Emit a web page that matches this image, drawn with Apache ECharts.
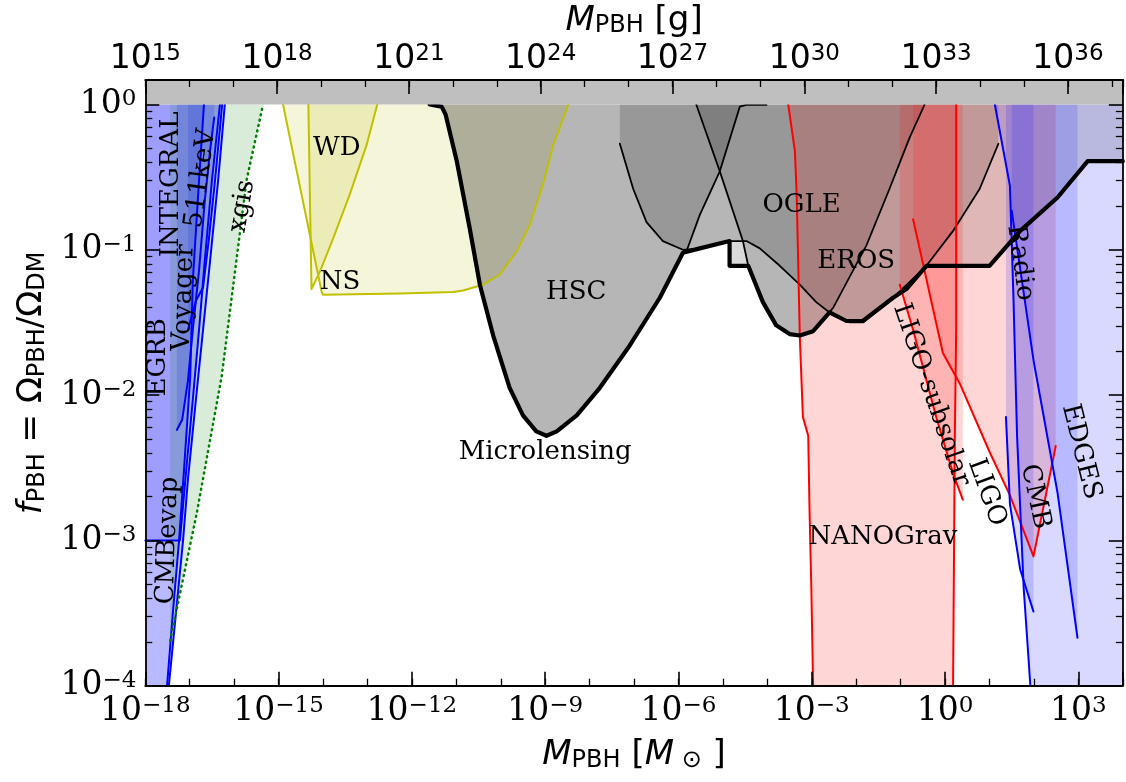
<!DOCTYPE html>
<html><head><meta charset="utf-8">
<script src="https://cdn.jsdelivr.net/npm/echarts@6/dist/echarts.min.js"></script>
<style>html,body{margin:0;padding:0;background:#fff}#c{width:1126px;height:782px}</style>
</head><body><div id="c"></div>
<script>
// Axis ranges: x in log10(M/Msun), top axis in log10(M/g), y in log10(f_PBH)
const X_MIN = -18, X_MAX = 4;
const G_MIN = 15, G_MAX = 37.25;
const Y_MIN = -4, Y_MAX = 0.1686;   // f_PBH from 1e-4 to ~1.47
const X_TICK_STEP = 3;

// Curves: [log10(M/Msun), log10(f_PBH)]
const cmbEvap  = [[-17.51,-4.0],[-17.38,-3.5],[-17.24,-3.0],[-17.13,-2.52],[-16.99,-1.88],[-16.93,-1.21],[-16.79,-0.52],[-16.68,0]];
const egrb     = [[-18,-3.0],[-17.22,-3.0],[-17.08,-2.52],[-16.93,-2.03],[-16.79,-1.55],[-16.66,-1.07],[-16.50,-0.52],[-16.32,0]];
const voyager  = [[-17.47,-4.0],[-17.31,-3.5],[-17.15,-3.0],[-17.04,-2.58],[-16.86,-2.03],[-16.70,-1.55],[-16.54,-1.07],[-16.36,-0.52],[-16.21,0]];
const kev511   = [[-17.29,-2.24],[-17.17,-2.17],[-17.04,-1.90],[-16.93,-1.55],[-16.79,-1.14],[-16.66,-0.66],[-16.54,-0.31],[-16.45,-0.09]];
const integral = [[-17.04,-1.55],[-16.86,-1.35],[-16.70,-1.26],[-16.57,-0.93],[-16.43,-0.52],[-16.27,0]];
const xgis     = [[-17.44,-3.69],[-16.84,-2.81],[-16.28,-1.87],[-15.72,-0.52],[-15.35,0]];
const wd       = [[-14.33,0],[-14.26,-1.27],[-14.07,-1.15],[-13.77,-0.92],[-13.40,-0.62],[-13.02,-0.28],[-12.78,0]];
const ns       = [[-14.90,0],[-14.22,-1.01],[-14.03,-1.29],[-14.00,-1.31],[-12.27,-1.30],[-11.07,-1.29],[-10.85,-1.28],[-10.40,-1.24],[-10.02,-1.17],[-9.64,-1.01],[-9.35,-0.83],[-9.05,-0.55],[-8.82,-0.28],[-8.48,0]];
const hsc      = [[-11.60,0],[-11.33,-0.015],[-11.24,-0.07],[-10.99,-0.39],[-10.70,-0.85],[-10.47,-1.24],[-10.17,-1.59],[-9.80,-1.95],[-9.50,-2.14],[-9.20,-2.25],[-8.97,-2.28],[-8.74,-2.25],[-8.29,-2.14],[-7.77,-1.95],[-7.10,-1.66],[-6.42,-1.33],[-5.90,-1.02],[-5.82,-1.01],[-5.52,-0.76],[-5.07,-0.46],[-4.62,-0.015],[-4.47,-0.003],[-4.02,-0.003]];
const eros     = [[-7.32,-0.27],[-7.02,-0.58],[-6.72,-0.81],[-6.35,-0.94],[-5.90,-1.00],[-5.52,-0.99],[-4.92,-0.94],[-4.47,-0.94],[-4.17,-0.99],[-3.72,-1.11],[-3.27,-1.24],[-2.90,-1.36],[-2.52,-1.45],[-2.15,-1.50],[-1.85,-1.50],[-1.17,-1.33],[-0.42,-1.11],[0.18,-0.87],[0.78,-0.58],[1.20,-0.27]];
const ogle     = [[-5.60,0],[-5.07,-0.46],[-4.55,-0.94],[-4.43,-1.11],[-4.10,-1.36],[-3.80,-1.52],[-3.50,-1.58],[-3.27,-1.59],[-2.97,-1.56],[-2.52,-1.40],[-1.77,-0.97],[-1.25,-0.58],[-0.80,-0.23],[-0.46,0]];
const envelope = [[-11.60,0],[-11.33,-0.015],[-11.24,-0.07],[-10.99,-0.39],[-10.70,-0.85],[-10.47,-1.24],[-10.17,-1.59],[-9.80,-1.95],[-9.50,-2.14],[-9.20,-2.25],[-8.97,-2.28],[-8.74,-2.25],[-8.29,-2.14],[-7.77,-1.95],[-7.10,-1.66],[-6.42,-1.33],[-5.90,-1.02],[-5.52,-0.99],[-4.85,-0.94],[-4.85,-1.11],[-4.43,-1.11],[-4.10,-1.36],[-3.80,-1.52],[-3.50,-1.58],[-3.27,-1.59],[-2.97,-1.56],[-2.60,-1.43],[-2.22,-1.49],[-1.85,-1.49],[-1.17,-1.33],[-0.87,-1.27],[-0.42,-1.11],[1.00,-1.11],[1.69,-0.87],[2.53,-0.64],[3.21,-0.39],[4.0,-0.39]];
const nanoLeft = [[-3.53,0],[-3.38,-0.32],[-3.34,-0.62],[-3.27,-1.59],[-3.20,-2.15],[-3.08,-2.28],[-3.05,-2.80],[-3.01,-3.33],[-2.97,-4.0]];
const nanoRight= [[0.18,-4.0],[0.22,-2.28],[0.25,-1.55],[0.25,0]];
const ligoSub  = [[-1.02,-1.24],[-0.72,-1.55],[-0.20,-2.15],[0.18,-2.54],[0.40,-2.72]];
const ligo     = [[-0.72,-0.79],[-0.05,-1.71],[0.33,-1.92],[1.00,-2.39],[1.46,-2.69],[1.99,-3.11],[2.49,-2.35]];
const radio    = [[1.12,0],[1.46,-0.56],[1.54,-1.34],[1.62,-2.28],[1.77,-3.33],[1.92,-4.0]];
const edges    = [[1.50,-0.73],[1.99,-1.76],[2.53,-2.67],[2.98,-3.67]];
const cmb      = [[1.37,-2.15],[1.46,-2.75],[1.69,-3.20],[1.99,-3.49]];

// Labels: [text, log10 M, log10 f, rotation in degrees]
const labels = [
  ['WD',-13.69,-0.30,0],['NS',-13.62,-1.22,0],['HSC',-8.30,-1.29,0],['Microlensing',-9.00,-2.39,0],
  ['OGLE',-3.23,-0.69,0],['EROS',-2.00,-1.08,0],['NANOGrav',-1.40,-2.98,0],
  ['LIGO-subsolar',-0.31,-2.00,-71],['LIGO',0.94,-2.67,-70],['Radio',1.69,-1.09,-82],
  ['CMB',2.03,-2.70,-78],['EDGES',3.06,-2.39,-76],
  ['INTEGRAL',-17.42,-0.55,90],['511keV',-16.75,-0.51,82],['Voyager',-17.13,-1.33,88],
  ['EGRB',-17.71,-1.74,90],['CMBevap',-17.49,-3.00,88],['xgis',-15.82,-0.70,80]
];

const serif = 'DejaVu Serif', sans = 'DejaVu Sans';
const above = c => c.concat([[c[c.length-1][0], 0], [c[0][0], 0]]);
const leftOf = c => c.concat([[X_MIN, 0], [X_MIN, c[0][1]]]);
const rightOf = c => c.concat([[X_MAX, c[c.length-1][1]], [X_MAX, 0]]);
const between = (a, b) => a.concat(b);

function fill(pts, color, z) {
  return {
    type: 'custom', silent: true, z: z || 2, animation: false, xAxisIndex: 0, yAxisIndex: 0,
    data: [pts[0]],
    renderItem: (params, api) => ({
      type: 'polygon',
      shape: { points: pts.map(p => api.coord(p)) },
      style: { fill: color }
    })
  };
}
function line(c, color, width, type, z) {
  return {
    type: 'line', data: c, symbol: 'none', showSymbol: false, silent: true, animation: false, xAxisIndex: 0, yAxisIndex: 0,
    lineStyle: { color: color, width: width, type: type || 'solid', cap: 'round', join: 'round' }, z: z || 3
  };
}

const BLUE = 'rgba(0,0,255,0.15)', GREEN = 'rgba(0,128,0,0.15)', YEL = 'rgba(191,191,0,0.15)';
const RED = 'rgba(255,0,0,0.16)', GRAY = 'rgba(0,0,0,0.166)', ENV = 'rgba(0,0,0,0.15)';

const series = [
  fill(leftOf(cmbEvap), BLUE), fill(above(egrb), BLUE), fill(leftOf(voyager), BLUE),
  fill(above(kev511), BLUE), fill(above(integral), BLUE), fill(above(xgis), GREEN),
  fill(above(ns), YEL), fill(above(wd), YEL),
  fill(above(envelope), ENV), fill(above(hsc), GRAY), fill(above(eros), GRAY), fill(above(ogle), GRAY),
  fill(between(nanoLeft, nanoRight), RED), fill(above(ligoSub), RED), fill(above(ligo), RED),
  fill(rightOf(radio), BLUE), fill(above(cmb), BLUE), fill(above(edges), BLUE),
  line(cmbEvap,'#0000ff',2), line(egrb,'#0000ff',2), line(voyager,'#0000ff',2), line(kev511,'#0000ff',2), line(integral,'#0000ff',2),
  line(xgis,'#008000',2.5,[1,4.5]),
  line(ns,'#c0c000',2), line(wd,'#c0c000',2),
  line(hsc,'#000',1.8), line(eros,'#000',1.8), line(ogle,'#000',1.8), line(envelope,'#000',4.2,'solid',4),
  line(nanoLeft,'#ff0000',2), line(nanoRight,'#ff0000',2), line(ligoSub,'#ff0000',2), line(ligo,'#ff0000',2),
  line(radio,'#0000ff',2), line(edges,'#0000ff',2), line(cmb,'#0000ff',2),
  // band above f = 1
  fill([[X_MIN,0],[X_MAX,0],[X_MAX,Y_MAX],[X_MIN,Y_MAX]], '#bfbfbf', 6),
  {
    type: 'custom', silent: true, z: 7, animation: false, xAxisIndex: 0, yAxisIndex: 0,
    data: labels.map((l, i) => [l[1], l[2], i]),
    renderItem: (params, api) => {
      const l = labels[api.value(2)];
      const pt = api.coord([api.value(0), api.value(1)]);
      return { type: 'text', x: pt[0], y: pt[1], rotation: l[3] * Math.PI / 180,
        style: { text: l[0], fill: '#000', fontFamily: serif, fontSize: 26, align: 'center', verticalAlign: 'middle' } };
    }
  }
];

const supFmt = v => '{b|10}{s|' + (v < 0 ? '\u2212' + (-v) : v) + '}';
const tickRich = fam => ({
  b: { fontFamily: fam, fontSize: 33, lineHeight: 33, verticalAlign: 'top', color: '#000' },
  s: { fontFamily: fam, fontSize: 23, lineHeight: 23, verticalAlign: 'top', color: '#000' }
});
const titleRich = {
  i: { fontFamily: sans, fontStyle: 'italic', fontSize: 34, lineHeight: 34, verticalAlign: 'top', color: '#000' },
  n: { fontFamily: sans, fontSize: 34, lineHeight: 34, verticalAlign: 'top', color: '#000' },
  sub: { fontFamily: sans, fontSize: 24, lineHeight: 24, padding: [16, 0, 0, 0], verticalAlign: 'bottom', color: '#000' }
};
const axLine = { show: true, onZero: false, lineStyle: { color: '#000', width: 1.8 } };
const major = { show: true, inside: true, length: 14, lineStyle: { color: '#000', width: 1.6 } };
const minor = { show: true, inside: true, length: 7, lineStyle: { color: '#000', width: 1.3 } };
const minorLog = { show: true, splitNumber: 9, length: 7, lineStyle: { color: '#000', width: 1.3 } };
const isMul = (v, k) => Math.abs(v / k - Math.round(v / k)) < 1e-9;

const GRID_TOP = 80, GRID_H = 605.7;
const DECADE_TOP = GRID_TOP + GRID_H * (Y_MAX / (Y_MAX - Y_MIN));

const option = {
  animation: false,
  grid: [
    { left: 145.3, top: GRID_TOP, width: 977.5, height: GRID_H, containLabel: false, outerBoundsMode: 'none' },
    { left: 145.3, top: DECADE_TOP, width: 977.5, height: GRID_TOP + GRID_H - DECADE_TOP, containLabel: false, outerBoundsMode: 'none' }
  ],
  xAxis: [
    { type: 'value', min: X_MIN, max: X_MAX, interval: X_TICK_STEP, position: 'bottom', z: 10,
      axisLine: axLine, axisTick: major, splitLine: { show: false },
      axisLabel: { margin: 9, formatter: v => isMul(v, 3) ? supFmt(Math.round(v)) : '', rich: tickRich(serif) },
      name: '{i|M}{sub|PBH}{n| [}{i|M}{sub| \u2299}{n| ]}', nameLocation: 'middle', nameGap: 46,
      nameTextStyle: { rich: titleRich } },
    { type: 'value', min: X_MIN, max: X_MAX, interval: 1, position: 'bottom', z: 10,
      axisLine: { show: false, onZero: false }, axisTick: minor, axisLabel: { show: false }, splitLine: { show: false } },
    { type: 'value', min: G_MIN, max: G_MAX, interval: X_TICK_STEP, position: 'top', z: 10,
      axisLine: axLine, axisTick: major, splitLine: { show: false },
      axisLabel: { margin: 4, formatter: v => isMul(v, 3) ? supFmt(Math.round(v)) : '', rich: tickRich(sans) },
      name: '{i|M}{sub|PBH}{n| [g]}', nameLocation: 'middle', nameGap: 37,
      nameTextStyle: { rich: titleRich } },
    { type: 'value', min: G_MIN, max: G_MAX, interval: 1, position: 'top', z: 10,
      axisLine: { show: false, onZero: false }, axisTick: minor, axisLabel: { show: false }, splitLine: { show: false } },
    { type: 'value', gridIndex: 1, min: X_MIN, max: X_MAX, show: false, axisLine: { onZero: false } }
  ],
  yAxis: [
    { type: 'value', min: Y_MIN, max: Y_MAX, interval: 1, position: 'left', z: 10,
      axisLine: axLine, axisTick: major, splitLine: { show: false },
      axisLabel: { margin: 9, formatter: v => isMul(v, 1) ? supFmt(Math.round(v)) : '', rich: tickRich(serif) },
      name: '{i|f}{sub|PBH}{n| = \u03A9}{sub|PBH}{n|/\u03A9}{sub|DM}', nameLocation: 'middle', nameGap: 88, nameRotate: 90,
      nameTextStyle: { rich: titleRich } },
    { type: 'value', min: Y_MIN, max: Y_MAX, interval: 1, position: 'right', z: 10,
      axisLine: axLine, axisTick: major, splitLine: { show: false }, axisLabel: { show: false } },
    // minor ticks (2..9 x 10^k) on the decade range
    { type: 'log', logBase: 10, gridIndex: 1, min: 1e-4, max: 1, position: 'left', z: 10,
      axisLine: { show: false, onZero: false }, axisTick: { show: false, inside: true }, minorTick: minorLog,
      axisLabel: { show: false }, splitLine: { show: false }, minorSplitLine: { show: false } },
    { type: 'log', logBase: 10, gridIndex: 1, min: 1e-4, max: 1, position: 'right', z: 10,
      axisLine: { show: false, onZero: false }, axisTick: { show: false, inside: true }, minorTick: minorLog,
      axisLabel: { show: false }, splitLine: { show: false }, minorSplitLine: { show: false } }
  ],
  series: series
};
const chart = echarts.init(document.getElementById('c'));
chart.setOption(option);
</script>
</body></html>
